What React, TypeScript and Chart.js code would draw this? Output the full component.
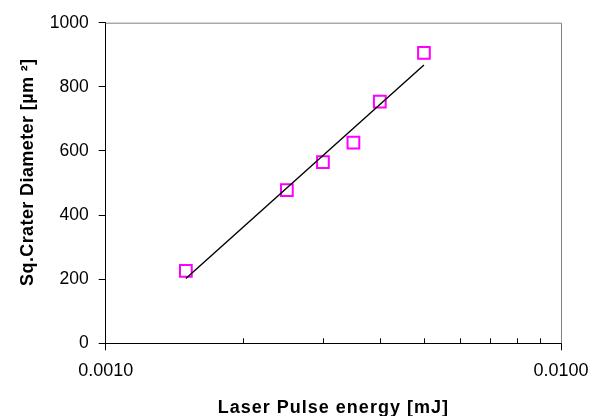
import React, { useEffect, useRef } from 'react';
import { Chart, registerables } from 'chart.js';

Chart.register(...registerables);

// ---- data ----
const energies = [0.0015, 0.0025, 0.003, 0.0035, 0.004, 0.005];
const sqDiameters = [226, 478, 565, 626, 754, 906];
const xAllTicks = [0.001, 0.002, 0.003, 0.004, 0.005, 0.006, 0.007, 0.008, 0.009, 0.01];
const xMajorTicks = [0.001, 0.01];
const xTitle = 'Laser Pulse energy [mJ]';
const yTitle = 'Sq.Crater Diameter [µm ²]';

const FONT = "'Liberation Sans', Arial, Helvetica, sans-serif";

// logarithmic trendline (y = a + b*log10(x)) fitted to the points
function logFit(xs: number[], ys: number[]) {
  const L = xs.map((x) => Math.log10(x));
  const n = L.length;
  const mL = L.reduce((s, v) => s + v, 0) / n;
  const mY = ys.reduce((s, v) => s + v, 0) / n;
  let sxy = 0;
  let sxx = 0;
  for (let i = 0; i < n; i++) {
    sxy += (L[i] - mL) * (ys[i] - mY);
    sxx += (L[i] - mL) * (L[i] - mL);
  }
  const b = sxy / sxx;
  const a = mY - b * mL;
  return (x: number) => a + b * Math.log10(x);
}

const isMajor = (v: number) => xMajorTicks.some((m) => Math.abs(m - v) / m < 1e-6);

function patchTitle(scale: any, spacing: string) {
  if (!scale || scale.__patched) return;
  const orig = scale.drawTitle.bind(scale);
  scale.drawTitle = function () {
    const ctx = this.ctx;
    ctx.save();
    (ctx as any).letterSpacing = spacing;
    orig();
    ctx.restore();
  };
  scale.__patched = true;
}

const framePlugin = {
  id: 'frame',
  beforeDraw(chart: any) {
    patchTitle(chart.scales.x, '1px');
    patchTitle(chart.scales.y, '0.4px');
  },
  beforeDatasetsDraw(chart: any) {
    const { ctx, chartArea } = chart;
    ctx.save();
    ctx.strokeStyle = '#808080';
    ctx.lineWidth = 1;
    ctx.beginPath();
    ctx.moveTo(chartArea.left, chartArea.top + 0.5);
    ctx.lineTo(chartArea.right + 0.5, chartArea.top + 0.5);
    ctx.lineTo(chartArea.right + 0.5, chartArea.bottom);
    ctx.stroke();
    ctx.restore();
  },
  afterDraw(chart: any) {
    const { ctx, chartArea } = chart;
    const xs = chart.scales.x;
    ctx.save();
    ctx.strokeStyle = '#000';
    ctx.lineWidth = 1;
    ctx.beginPath();
    xAllTicks.forEach((v) => {
      if (isMajor(v)) return;
      const px = Math.round(xs.getPixelForValue(v)) + 0.5;
      ctx.moveTo(px, chartArea.bottom);
      ctx.lineTo(px, chartArea.bottom - 5);
    });
    ctx.stroke();
    ctx.restore();
  },
};

export default function App() {
  const ref = useRef<HTMLCanvasElement>(null);

  useEffect(() => {
    if (!ref.current) return;
    const fit = logFit(energies, sqDiameters);
    const xMin = Math.min(...energies);
    const xMax = Math.max(...energies);
    const trend = [
      { x: xMin, y: fit(xMin) },
      { x: xMax, y: fit(xMax) },
    ];
    const points = energies.map((x, i) => ({ x, y: sqDiameters[i] }));

    const chart = new Chart(ref.current, {
      type: 'scatter',
      data: {
        datasets: [
          {
            type: 'line',
            data: trend,
            borderColor: '#000',
            borderWidth: 1.4,
            pointRadius: 0,
            fill: false,
            order: 1,
          } as any,
          {
            type: 'scatter',
            data: points,
            pointStyle: 'rect',
            pointRadius: 8.3,
            pointHoverRadius: 8.3,
            borderColor: '#FF00FF',
            backgroundColor: 'rgba(0,0,0,0)',
            pointBorderWidth: 2,
            borderWidth: 2,
            order: 2,
          } as any,
        ],
      },
      options: {
        animation: false,
        responsive: true,
        maintainAspectRatio: false,
        events: [],
        layout: { padding: { top: 22.7, right: 38, left: 0, bottom: 0 } },
        plugins: { legend: { display: false }, tooltip: { enabled: false } },
        scales: {
          x: {
            type: 'logarithmic',
            min: 0.001,
            max: 0.01,
            afterBuildTicks: (scale: any) => {
              scale.ticks = xAllTicks.map((v) => ({ value: v, major: isMajor(v) }));
            },
            afterFit: (scale: any) => {
              scale.height = 416 - 343.3;
            },
            ticks: {
              autoSkip: false,
              maxRotation: 0,
              color: '#000',
              padding: 10,
              font: { family: FONT, size: 18 },
              callback: (v: any) => (isMajor(Number(v)) ? Number(v).toFixed(4) : ''),
            },
            grid: {
              drawOnChartArea: false,
              drawTicks: true,
              tickLength: 7,
              color: (c: any) => (c.tick && isMajor(c.tick.value) ? '#000' : 'rgba(0,0,0,0)'),
            },
            border: { display: true, color: '#000', width: 1 },
            title: {
              display: true,
              text: xTitle,
              color: '#000',
              font: { family: FONT, size: 18, weight: 'bold', lineHeight: 1 },
              padding: { top: 0, bottom: -1 },
            },
          },
          y: {
            type: 'linear',
            min: 0,
            max: 1000,
            afterFit: (scale: any) => {
              scale.width = 105.7;
            },
            ticks: {
              stepSize: 200,
              color: '#000',
              padding: 10,
              font: { family: FONT, size: 17.5 },
              callback: (v: any) => String(v),
            },
            grid: {
              drawOnChartArea: false,
              drawTicks: true,
              tickLength: 7,
              color: '#000',
            },
            border: { display: true, color: '#000', width: 1 },
            title: {
              display: true,
              text: '    ' + yTitle,
              color: '#000',
              font: { family: FONT, size: 18, weight: 'bold', lineHeight: 1 },
              padding: { top: 19, bottom: 0 },
            },
          },
        },
      },
      plugins: [framePlugin],
    });
    return () => chart.destroy();
  }, []);

  return (
    <div style={{ position: 'absolute', left: 0, top: 0, width: 599, height: 416, background: '#fff' }}>
      <canvas ref={ref} />
    </div>
  );
}
